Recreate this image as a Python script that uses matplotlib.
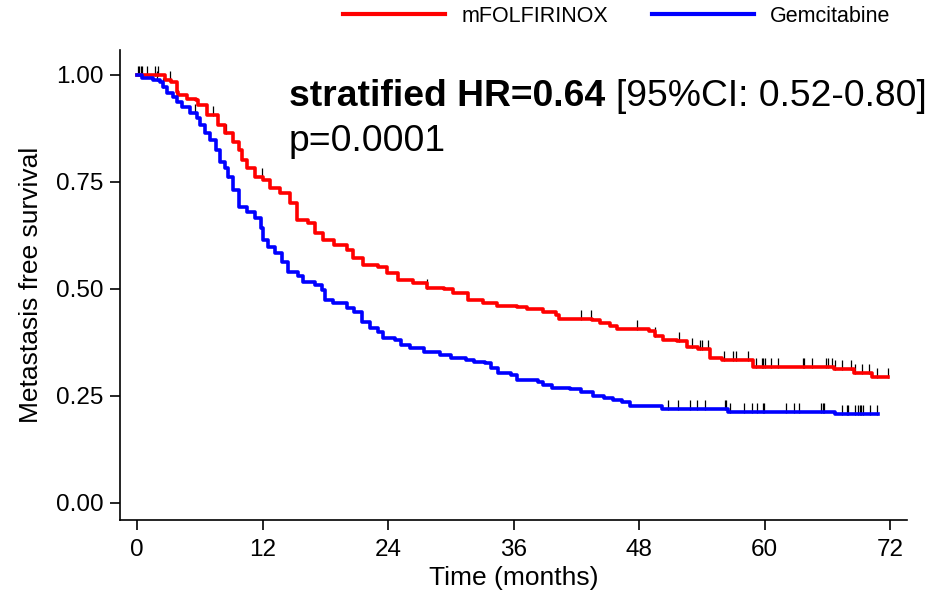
import numpy as np
import matplotlib.pyplot as plt

# Kaplan-Meier steps: time (months) and survival after the drop
red_t = [0, 2.7, 3.2, 3.8, 3.9, 4.8, 5.6, 5.8, 6.7, 7.7, 8.4, 9.2, 9.7, 10.0, 10.5,
         11.3, 12.0, 12.7, 13.7, 14.6, 15.3, 16.3, 17.0, 17.8, 18.8, 20.1, 20.6,
         21.6, 23.0, 23.9, 24.9, 26.4, 27.7, 29.3, 30.2, 31.6, 33.1, 34.4, 36.3,
         37.3, 38.8, 40.0, 40.3, 43.5, 44.3, 45.2, 45.9, 48.9, 49.5, 50.3, 51.6,
         52.6, 53.6, 54.8, 55.9, 58.9, 66.6, 68.5, 70.3]
red_s = [1.0, 0.988, 0.984, 0.960, 0.953, 0.944, 0.942, 0.930, 0.907, 0.883, 0.864,
         0.843, 0.825, 0.801, 0.783, 0.762, 0.755, 0.736, 0.724, 0.701, 0.661, 0.654,
         0.631, 0.614, 0.603, 0.591, 0.572, 0.556, 0.551, 0.537, 0.521, 0.514, 0.502,
         0.500, 0.491, 0.474, 0.467, 0.460, 0.458, 0.453, 0.446, 0.439, 0.430, 0.428,
         0.421, 0.414, 0.407, 0.402, 0.390, 0.381, 0.379, 0.364, 0.360, 0.339, 0.334,
         0.318, 0.313, 0.304, 0.294]
red_end = 71.8
red_cens = [0.13, 0.35, 0.92, 1.72, 2.04, 3.16, 3.83, 7.3, 8.5, 11.9, 27.7, 42.4,
            43.4, 47.8, 49.5, 51.8, 53.0, 53.8, 54.0, 54.6, 56.1, 57.0, 57.3, 58.4,
            59.2, 59.7, 59.8, 60.0, 60.6, 61.3, 63.7, 63.8, 64.5, 65.9, 66.0, 66.4,
            66.7, 67.4, 68.2, 68.6, 69.3, 70.0, 70.7, 71.8]

blue_t = [0, 0.5, 1.5, 2.2, 2.5, 2.9, 3.4, 3.8, 4.3, 5.1, 5.7, 6.0, 6.5, 7.0, 7.5,
          7.9, 8.4, 8.7, 9.2, 9.7, 10.5, 11.3, 11.8, 12.0, 12.5, 13.2, 13.9, 14.4,
          15.4, 15.9, 17.0, 17.7, 18.0, 18.7, 20.1, 20.7, 21.5, 22.3, 23.0, 23.5,
          24.7, 25.2, 26.1, 27.4, 29.0, 30.0, 31.4, 32.2, 33.3, 33.8, 34.5, 35.7,
          36.3, 38.3, 38.8, 39.7, 41.4, 42.4, 43.6, 44.6, 45.5, 46.4, 47.1, 50.2,
          56.5, 66.7]
blue_s = [1.0, 0.993, 0.988, 0.984, 0.972, 0.958, 0.949, 0.937, 0.925, 0.911, 0.900,
          0.883, 0.864, 0.848, 0.825, 0.797, 0.783, 0.762, 0.731, 0.692, 0.680, 0.666,
          0.643, 0.614, 0.598, 0.584, 0.563, 0.540, 0.530, 0.516, 0.509, 0.498, 0.474,
          0.467, 0.456, 0.446, 0.423, 0.409, 0.400, 0.386, 0.381, 0.369, 0.362, 0.353,
          0.346, 0.339, 0.334, 0.329, 0.327, 0.315, 0.304, 0.299, 0.287, 0.283, 0.276,
          0.269, 0.266, 0.259, 0.250, 0.245, 0.241, 0.236, 0.227, 0.220, 0.213, 0.208]
blue_end = 70.8
blue_cens = [0.22, 0.45, 1.88, 2.52, 5.55, 8.73, 11.8, 50.8, 51.7, 52.9, 53.5, 54.3,
             56.2, 56.3, 56.7, 58.0, 58.8, 59.3, 59.8, 59.9, 62.0, 62.8, 63.3, 65.4,
             65.6, 65.7, 67.4, 67.9, 68.0, 68.6, 68.9, 69.1, 69.2, 69.4, 70.1, 70.7]

groups = ['mFOLFIRINOX', 'Gemcitabine']
colors = ['#FF0000', '#0000FF']
x_ticks = [0, 12, 24, 36, 48, 60, 72]
y_ticks = [0.0, 0.25, 0.5, 0.75, 1.0]

plt.rcParams['font.family'] = ['Liberation Sans', 'DejaVu Sans']

fig = plt.figure(figsize=(9.26, 6.01), dpi=100)
ax = fig.add_axes([0.1296, 0.1348, 0.9795 - 0.1296, 0.9168 - 0.1348])

curves = [(red_t, red_s, red_end, red_cens), (blue_t, blue_s, blue_end, blue_cens)]
handles = []
for (t, s, t_end, cens), col, name in zip(curves, colors, groups):
    t = np.append(t, t_end)
    s = np.append(s, s[-1])
    h, = ax.step(t, s, where='post', color=col, lw=2.6, label=name, zorder=3)
    handles.append(h)
    idx = np.searchsorted(t, cens, side='right') - 1
    ax.plot(cens, s[idx] + 0.009, ls='none', marker='|', ms=7, mew=0.9,
            color='black', zorder=2)

ax.set_xlim(-1.63, 73.6)
ax.set_ylim(-0.0397, 1.058)
ax.set_xticks(x_ticks)
ax.set_yticks(y_ticks)
ax.set_yticklabels(['{:.2f}'.format(v) for v in y_ticks])
ax.tick_params(labelsize=17.5, length=7, width=1.2, pad=5, color='black')
ax.tick_params(axis='x', pad=7)
for side in ['top', 'right']:
    ax.spines[side].set_visible(False)
for side in ['left', 'bottom']:
    ax.spines[side].set_linewidth(1.2)

ax.set_xlabel('Time (months)', fontsize=19, labelpad=3)
ax.set_ylabel('Metastasis free survival', fontsize=19, labelpad=9)

t1 = ax.text(14.53, 0.908, 'stratified HR=0.64 ', fontsize=26.8, fontweight='bold',
             va='bottom', ha='left')
ax.annotate('[95%CI: 0.52-0.80]', xy=(1, 0), xycoords=t1, fontsize=26.8,
            va='bottom', ha='left')
ax.text(14.53, 0.803, 'p=0.0001', fontsize=26.8, va='bottom', ha='left')

fig.legend(handles=handles, labels=groups, loc='center', bbox_to_anchor=(0.666, 0.973),
           ncol=2, frameon=False, fontsize=15.5, handlelength=4.75,
           handletextpad=0.75, columnspacing=2.05)
for lh in fig.legends[0].get_lines():
    lh.set_linewidth(3)

fig.savefig('out.png', dpi=100)
